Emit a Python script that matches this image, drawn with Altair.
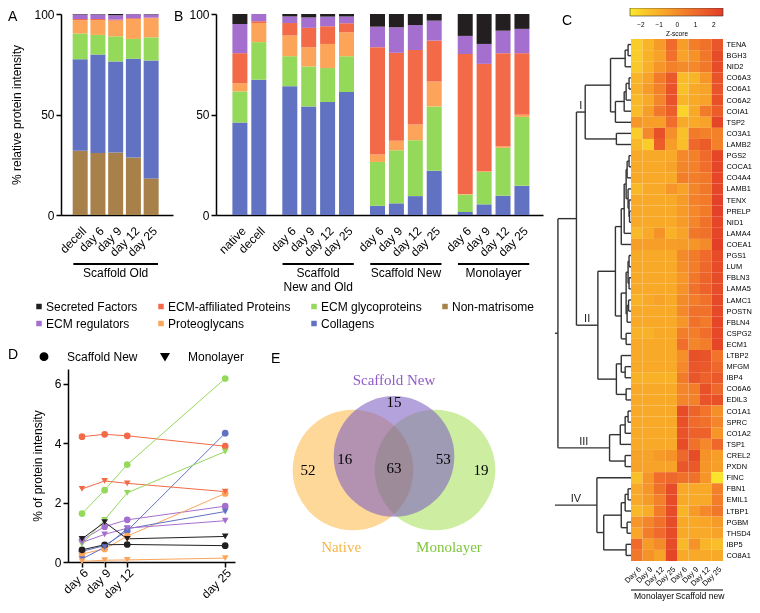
import json
import math
import altair as alt
import pandas as pd

SANS = "Liberation Sans"
SERIF = "Liberation Serif"

# ---------------- shared categories ----------------
categories = ["Secreted Factors", "ECM-affiliated Proteins", "ECM glycoproteins",
              "Non-matrisome", "ECM regulators", "Proteoglycans", "Collagens"]
category_colors = ["#231f20", "#f26a48", "#95d95b", "#a8804a", "#a56fcf", "#fca55a", "#6272c2"]
stack_order = ["Non-matrisome", "Collagens", "ECM glycoproteins", "Proteoglycans",
               "ECM-affiliated Proteins", "ECM regulators", "Secreted Factors"]

# ---------------- panel A (Scaffold Old) ----------------
a_labels = ["decell", "day 6", "day 9", "day 12", "day 25"]
a_groups = [("Scaffold Old", 5)]
a_nonmatrisome = [32.0, 30.9, 31.1, 28.6, 18.2]
a_collagens = [45.5, 48.9, 45.3, 49.1, 58.7]
a_glycoproteins = [12.8, 9.8, 12.5, 9.9, 11.5]
a_proteoglycans = [6.6, 7.4, 7.8, 9.9, 9.5]
a_affiliated = [0.6, 0.5, 0.5, 0.4, 0.3]
a_regulators = [2.3, 2.3, 2.2, 2.0, 1.6]
a_secreted = [0.2, 0.2, 0.6, 0.1, 0.2]

# ---------------- panel B ----------------
b_labels = ["native", "decell",
            "day 6", "day 9", "day 12", "day 25",
            "day 6", "day 9", "day 12", "day 25",
            "day 6", "day 9", "day 12", "day 25"]
b_groups = [("", 2), ("Scaffold\nNew and Old", 4), ("Scaffold New", 4), ("Monolayer", 4)]
b_collagens = [46.0, 67.3, 64.1, 54.0, 56.2, 61.2, 4.6, 5.8, 9.4, 22.0, 1.5, 5.3, 9.6, 14.5]
b_glycoproteins = [15.5, 18.7, 14.9, 19.9, 16.9, 17.8, 21.8, 26.4, 27.8, 32.0, 8.7, 16.2, 23.8, 34.3]
b_proteoglycans = [4.1, 9.5, 10.3, 9.6, 12.0, 11.9, 3.7, 4.7, 7.8, 12.4, 0.3, 0.3, 0.8, 1.1]
b_affiliated = [14.9, 0.9, 6.2, 9.6, 8.8, 4.5, 53.4, 43.8, 37.1, 20.4, 69.6, 53.4, 46.3, 30.6]
b_regulators = [14.5, 3.6, 3.3, 5.2, 4.8, 3.4, 10.2, 12.7, 12.4, 9.9, 9.0, 9.9, 11.2, 12.1]
b_secreted = [5.0, 0.0, 1.2, 1.7, 1.3, 1.2, 6.3, 6.6, 5.5, 3.3, 10.9, 14.9, 8.3, 7.4]

# ---------------- panel D ----------------
d_days = [6, 9, 12, 25]
d_conditions = ["Scaffold New", "Monolayer"]
sn_affiliated = [4.22, 4.30, 4.25, 3.90]
sn_glycoproteins = [1.63, 2.42, 3.28, 6.18]
sn_collagens = [0.36, 0.55, 1.05, 4.34]
sn_regulators = [0.74, 1.19, 1.42, 1.88]
sn_proteoglycans = [0.27, 0.44, 0.87, 2.31]
sn_secreted = [0.41, 0.58, 0.59, 0.55]
mo_affiliated = [2.46, 2.73, 2.65, 2.37]
mo_glycoproteins = [0.60, 1.42, 2.33, 3.72]
mo_collagens = [0.10, 0.50, 1.12, 1.70]
mo_regulators = [0.66, 0.93, 1.14, 1.39]
mo_proteoglycans = [0.02, 0.06, 0.07, 0.13]
mo_secreted = [0.78, 1.34, 0.78, 0.86]

# ---------------- panel E (Venn) ----------------
venn_sets = ["Native", "Monolayer", "Scaffold New"]
venn_fill = ["#fdd898", "#cdeea0", "#7d5fc3"]
venn_opacity = [1.0, 1.0, 0.58]
venn_blend = [None, "multiply", None]
venn_text_color = ["#f8b64a", "#7ec63c", "#8f5cc9"]
venn_cx = [-1.0, 1.0, 0.0]
venn_cy = [0.0, 0.0, 0.33]
venn_radius = 1.66
venn_label_x = [-1.29, 1.34, 0.0]
venn_label_y = [-1.88, -1.88, 2.2]
venn_counts = [52, 16, 63, 53, 19, 15]
venn_count_x = [-2.1, -1.2, 0.0, 1.2, 2.12, 0.0]
venn_count_y = [0.0, 0.27, 0.05, 0.27, 0.0, 1.66]

# ---------------- panel C (heatmap) ----------------
heat_rows = ["TENA", "BGH3", "NID2", "CO6A3", "CO6A1", "CO6A2", "COIA1", "TSP2", "CO3A1", "LAMB2",
             "PGS2", "COCA1", "CO4A4", "LAMB1", "TENX", "PRELP", "NID1", "LAMA4", "COEA1", "PGS1",
             "LUM", "FBLN3", "LAMA5", "LAMC1", "POSTN", "FBLN4", "CSPG2", "ECM1", "LTBP2", "MFGM",
             "IBP4", "CO6A6", "EDIL3", "CO1A1", "SPRC", "CO1A2", "TSP1", "CREL2", "PXDN", "FINC",
             "FBN1", "EMIL1", "LTBP1", "PGBM", "THSD4", "IBP5", "CO8A1"]
heat_col_labels = ["Day 6", "Day 9", "Day 12", "Day 25", "Day 6", "Day 9", "Day 12", "Day 25"]
heat_groups = [("Monolayer", 4), ("Scaffold new", 4)]
heat_z = [
    [-1.9, -1.2, -0.4, 1.0, -0.5, 0.4, 0.8, 1.7],    # TENA
    [-1.9, -1.1, -0.6, 0.8, -0.6, -0.2, 0.6, 2.0],   # BGH3
    [-1.8, -1.0, -0.3, 0.3, 0.0, 0.1, 0.6, 2.0],     # NID2
    [-1.2, -0.6, 0.5, 1.6, -1.4, -1.2, -0.3, 1.8],   # CO6A3
    [-1.1, -0.4, 0.3, 1.8, -1.6, -0.8, -0.6, 1.8],   # CO6A1
    [-1.3, -0.8, 0.2, 1.8, -1.2, -0.8, -0.6, 1.9],   # CO6A2
    [-1.4, -0.5, 0.6, 1.4, -2.1, -0.8, 0.5, 1.5],    # COIA1
    [-0.3, -0.5, -0.5, 0.9, -0.8, -0.8, -0.6, 2.2],  # TSP2
    [-1.9, 0.1, 1.9, -0.1, -1.6, 0.5, 0.3, 0.3],     # CO3A1
    [-1.3, -1.9, 1.5, -0.5, -1.5, 1.1, 1.5, 0.3],    # LAMB2
    [-0.8, -0.8, -0.8, -0.8, 0.1, 0.3, 1.0, 2.2],    # PGS2
    [-0.8, -0.8, -0.8, -0.6, 0.2, 0.3, 0.9, 2.2],    # COCA1
    [-0.8, -0.8, -0.8, -0.8, 0.4, 0.4, 0.6, 2.2],    # CO4A4
    [-1.3, -0.8, -0.8, -0.3, -0.6, 0.2, 0.6, 2.2],   # LAMB1
    [-0.8, -0.8, -0.8, -0.8, -0.4, 0.3, 0.5, 2.3],   # TENX
    [-0.8, -0.8, -0.8, -0.8, -0.4, 0.1, 0.5, 2.3],   # PRELP
    [-0.8, -0.8, -0.8, -0.8, -0.4, 0.2, 0.8, 2.2],   # NID1
    [-1.3, -0.8, -0.2, -1.1, -0.6, 0.6, 0.8, 2.2],   # LAMA4
    [-0.5, -0.5, -0.5, -0.5, -0.4, -0.3, 0.0, 2.4],  # COEA1
    [-0.8, -0.8, -0.8, -0.8, 0.0, 0.5, 1.0, 2.0],    # PGS1
    [-0.8, -0.8, -0.8, -0.8, -0.1, 0.4, 1.1, 2.0],   # LUM
    [-0.8, -0.8, -0.8, -0.8, -0.3, 0.6, 1.2, 2.0],   # FBLN3
    [-0.8, -0.8, -0.8, -0.8, -0.2, 0.8, 1.3, 2.0],   # LAMA5
    [-1.1, -0.8, -0.6, -0.8, 0.0, 0.4, 0.8, 2.1],    # LAMC1
    [-0.8, -0.8, -0.8, -0.8, 0.1, 0.8, 0.8, 2.1],    # POSTN
    [-0.8, -0.8, -0.8, -0.8, -0.3, 0.8, 0.5, 2.2],   # FBLN4
    [-1.1, -1.1, -0.8, -0.8, 0.4, 0.4, 0.9, 2.1],    # CSPG2
    [-0.8, -0.8, -0.8, -0.8, 0.9, 0.2, 0.4, 2.2],    # ECM1
    [-0.8, -0.8, -0.8, -0.8, -0.1, 1.9, 1.8, 0.7],   # LTBP2
    [-0.8, -0.8, -0.8, -0.8, 0.1, 1.7, 1.6, 1.1],    # MFGM
    [-1.1, -1.1, -1.1, -1.1, 0.5, 1.7, 1.3, 1.6],    # IBP4
    [-0.8, -0.8, -0.8, -0.8, 0.2, 0.4, 1.9, 1.1],    # CO6A6
    [-0.8, -0.8, -0.8, -0.8, 0.2, 0.3, 1.8, 1.9],    # EDIL3
    [-0.8, -0.8, -0.8, -0.8, 2.0, 1.2, 0.7, -0.1],   # CO1A1
    [-0.8, -0.8, -0.8, -0.8, 1.9, 1.0, 0.8, 0.2],    # SPRC
    [-0.8, -0.8, -0.8, -0.8, 1.8, 1.3, 1.3, -0.3],   # CO1A2
    [-0.8, -0.8, -0.8, -0.8, 2.0, 0.8, 0.1, 1.1],    # TSP1
    [-0.6, -0.6, -0.4, -0.2, 1.1, 2.0, -0.2, -0.5],  # CREL2
    [-0.6, -0.6, -0.6, -0.6, 1.7, 1.6, -0.3, -0.5],  # PXDN
    [-1.6, -0.3, 0.9, 1.1, 0.8, 0.8, -0.3, -2.5],    # FINC
    [-0.8, -0.3, 0.8, 2.0, -0.8, -0.8, -0.8, 0.3],   # FBN1
    [-0.8, -0.4, 0.3, 2.0, -0.8, -0.8, -0.8, 0.4],   # EMIL1
    [-1.3, -0.9, 0.5, 2.0, -1.2, -0.4, 0.1, 0.6],    # LTBP1
    [-0.3, 0.2, 0.8, 2.0, -0.8, -0.8, -0.7, -0.4],   # PGBM
    [-0.7, 0.4, 1.0, 2.0, -0.8, -0.8, -0.8, -0.6],   # THSD4
    [1.0, -0.4, 0.0, 2.0, -1.3, -0.2, -1.2, -1.5],   # IBP5
    [0.6, -0.2, -0.6, 2.2, -0.8, -0.8, -0.8, -0.8],  # CO8A1
]
z_stops = [-2.6, -1.7, -0.8, 0.0, 1.0, 2.5]
z_colors = ["#f9e82c", "#f9c42a", "#f8a928", "#f48b2a", "#ef6a2b", "#e23b28"]

# dendrogram: (merge height, left, right); leaves are protein names
cluster_I = (47, (21, (6, (3, "TENA", "BGH3"), "NID2"),
                  (16, (7, (5, (2, "CO6A3", "CO6A1"), "CO6A2"), "COIA1"), "TSP2")),
             (15, "CO3A1", "LAMB2"))
cluster_II = (34, (16, (10, (7, (5, (4, (2, "PGS2", "COCA1"), "CO4A4"),
                                   (3, "LAMB1", (2, "TENX", (1.5, "PRELP", "NID1")))), "LAMA4"), "COEA1"),
                   (10, (5, (3, (2, "PGS1", "LUM"), (2, "FBLN3", "LAMA5")),
                         (4, (2.5, "LAMC1", "POSTN"), "FBLN4")),
                    (5, "CSPG2", "ECM1"))),
              (15, (10, "LTBP2", (6, "MFGM", "IBP4")), (5, "CO6A6", "EDIL3")))
cluster_III = (22, (11, (6, (3, "CO1A1", "SPRC"), "CO1A2"), "TSP1"), (6, "CREL2", "PXDN"))
cluster_IV = (35, "FINC", (28, (10, (6, (3, "FBN1", "EMIL1"), "LTBP1"), (4, "PGBM", "THSD4")),
                           (5, "IBP5", "CO8A1")))
node_I_II = (56, cluster_I, cluster_II)
node_R1 = (75, node_I_II, cluster_III)
dendro_tree = (88, node_R1, cluster_IV)
cluster_names = [("I", cluster_I, node_I_II), ("II", cluster_II, node_I_II),
                 ("III", cluster_III, node_R1), ("IV", cluster_IV, dendro_tree)]

# ---------------- layout constants ----------------
SLOT_PX = 19.5
BAR_PX = 15
HALF = BAR_PX / 2 / SLOT_PX
GROUP_GAP = 0.64
BAR_H = 201
A_DOMAIN = [-0.8, 4.95]
B_DOMAIN = [-1.0, 15.77]
D_SHIFT = 7
D_W, D_H = 167, 193
E_W, E_H = 287, 234
E_XDOM = [-3.366, 3.634]
E_YDOM = [-3.244, 2.463]
DENDRO_W = 76
DENDRO_MAX = 78
HEAT_W = 92
HEAT_TOP = 25
ROW_PX = 11.1
HEAT_H = round(len(heat_rows) * ROW_PX)

color_scale = alt.Scale(domain=categories, range=category_colors)
AX = dict(domainColor="black", domainWidth=1.5, tickColor="black", tickWidth=1.5,
          labelColor="black", titleColor="black", labelFont=SANS, titleFont=SANS,
          labelFontSize=12, titleFontSize=12, titleFontWeight="normal", grid=False,
          labelOverlap=False)

main_legend = alt.Legend(orient="none", legendX=-28, legendY=286.5, columns=4,
                         direction="horizontal", title=None, symbolType="square", symbolSize=30,
                         symbolStrokeWidth=0, labelFont=SANS, labelFontSize=12, labelColor="black",
                         labelOffset=1, columnPadding=17, rowPadding=5, padding=0)


def letter(ch, x, y):
    return alt.Chart(pd.DataFrame({"t": [ch]})).mark_text(
        align="left", baseline="top", fontSize=14, font=SANS, color="black"
    ).encode(text="t:N", x=alt.value(x), y=alt.value(y))


def bar_panel(labels, positions, series, domain, groups, ch, ch_x, ytitle):
    rows = []
    for cat, vals in series:
        for p, v in zip(positions, vals):
            rows.append(dict(pos=p, category=cat, value=v, order=stack_order.index(cat)))
    df = pd.DataFrame(rows)
    width = round((domain[1] - domain[0]) * SLOT_PX)
    xs = alt.Scale(domain=domain, nice=False, zero=False)
    label_expr = f"{json.dumps(labels)}[indexof({json.dumps(positions)}, datum.value)]"
    xaxis = alt.Axis(values=positions, labelExpr=label_expr, labelAngle=-45, ticks=False,
                     tickSize=0, labelPadding=10, title=None, **AX)
    yaxis = alt.Axis(values=[0, 50, 100], tickSize=5, labelPadding=2, title=ytitle,
                     titlePadding=10, **AX)
    bars = alt.Chart(df).mark_bar(size=BAR_PX).encode(
        x=alt.X("pos:Q", scale=xs, axis=xaxis),
        y=alt.Y("value:Q", stack="zero", scale=alt.Scale(domain=[0, 100], nice=False), axis=yaxis),
        color=alt.Color("category:N", scale=color_scale, legend=main_legend),
        order=alt.Order("order:Q", sort="ascending"),
    )
    gl = []
    start = 0
    for name, size in groups:
        if name:
            p0, p1 = positions[start], positions[start + size - 1]
            gl.append(dict(x1=p0 - HALF, x2=p1 + HALF, xm=(p0 + p1) / 2, name=name))
        start += size
    gdf = pd.DataFrame(gl)
    rules = alt.Chart(gdf).mark_rule(color="black", strokeWidth=1.8).encode(
        x=alt.X("x1:Q", scale=xs, axis=xaxis), x2="x2:Q", y=alt.value(BAR_H + 49))
    gtext = alt.Chart(gdf).mark_text(baseline="top", align="center", fontSize=12, font=SANS,
                                     lineBreak="\n", lineHeight=13.5, color="black").encode(
        x=alt.X("xm:Q", scale=xs, axis=xaxis), y=alt.value(BAR_H + 53), text="name:N")
    return alt.layer(bars, rules, gtext, letter(ch, ch_x, -4)).properties(width=width, height=BAR_H)


# ---- A ----
a_pos = list(range(len(a_labels)))
a_series = [("Non-matrisome", a_nonmatrisome), ("Collagens", a_collagens),
            ("ECM glycoproteins", a_glycoproteins), ("Proteoglycans", a_proteoglycans),
            ("ECM-affiliated Proteins", a_affiliated), ("ECM regulators", a_regulators),
            ("Secreted Factors", a_secreted)]
chart_a = bar_panel(a_labels, a_pos, a_series, A_DOMAIN, a_groups, "A", -53,
                    "% relative protein intensity")

# ---- B ----
b_pos = []
p = 0.0
for _, size in b_groups:
    for _ in range(size):
        b_pos.append(round(p, 2))
        p += 1
    p += GROUP_GAP
b_series = [("Collagens", b_collagens), ("ECM glycoproteins", b_glycoproteins),
            ("Proteoglycans", b_proteoglycans), ("ECM-affiliated Proteins", b_affiliated),
            ("ECM regulators", b_regulators), ("Secreted Factors", b_secreted)]
chart_b = bar_panel(b_labels, b_pos, b_series, B_DOMAIN, b_groups, "B", -42, None)

# ---- D ----
d_rows = []
for cond, series in [("Scaffold New", [("ECM-affiliated Proteins", sn_affiliated),
                                       ("ECM glycoproteins", sn_glycoproteins),
                                       ("Collagens", sn_collagens), ("ECM regulators", sn_regulators),
                                       ("Proteoglycans", sn_proteoglycans),
                                       ("Secreted Factors", sn_secreted)]),
                     ("Monolayer", [("ECM-affiliated Proteins", mo_affiliated),
                                    ("ECM glycoproteins", mo_glycoproteins),
                                    ("Collagens", mo_collagens), ("ECM regulators", mo_regulators),
                                    ("Proteoglycans", mo_proteoglycans),
                                    ("Secreted Factors", mo_secreted)])]:
    for cat, vals in series:
        for day, v in zip(d_days, vals):
            d_rows.append(dict(day=day, value=v, category=cat, condition=cond, series=cond + cat))
ddf = pd.DataFrame(d_rows)
dxs = alt.Scale(domain=[4.14, 26.3], range=[D_SHIFT, D_SHIFT + D_W], nice=False, zero=False)
dys = alt.Scale(domain=[0, 6.5], nice=False)
d_x = alt.X("day:Q", scale=dxs, axis=alt.Axis(values=d_days, labelExpr="'day ' + datum.value",
                                              labelAngle=-45, tickSize=5, labelPadding=0,
                                              title=None, **AX))
d_y = alt.Y("value:Q", scale=dys, axis=alt.Axis(values=[0, 2, 4, 6], tickSize=5, labelPadding=2,
                                                offset=-D_SHIFT, title="% of protein intensity",
                                                titlePadding=10, **AX))
d_color = alt.Color("category:N", scale=color_scale, legend=main_legend)
d_lines = alt.Chart(ddf).mark_line(strokeWidth=1).encode(x=d_x, y=d_y, color=d_color, detail="series:N")
d_points = alt.Chart(ddf).mark_point(filled=True, size=45, opacity=1).encode(
    x=d_x, y=d_y, color=d_color,
    shape=alt.Shape("condition:N", scale=alt.Scale(domain=d_conditions, range=["circle", "triangle-down"]),
                    legend=alt.Legend(orient="none", legendX=-23, legendY=336.5, direction="horizontal",
                                      title=None, symbolFillColor="black", symbolStrokeColor="black",
                                      symbolSize=55, labelFont=SANS, labelFontSize=12,
                                      labelColor="black", labelOffset=17, columnPadding=20,
                                      padding=0)))
chart_d = alt.layer(d_lines, d_points, letter("D", -53, -21)).properties(width=D_SHIFT + D_W, height=D_H)

# ---- E ----
exs = alt.Scale(domain=E_XDOM, nice=False, zero=False)
eys = alt.Scale(domain=E_YDOM, nice=False, zero=False)
e_px = E_W / (E_XDOM[1] - E_XDOM[0])
circle_area = math.pi * (venn_radius * e_px) ** 2
e_layers = []
for name, fill, op, bl, cx, cy in zip(venn_sets, venn_fill, venn_opacity, venn_blend, venn_cx, venn_cy):
    kw = dict(size=circle_area, color=fill, opacity=op)
    if bl:
        kw["blend"] = bl
    e_layers.append(alt.Chart(pd.DataFrame({"cx": [cx], "cy": [cy]})).mark_circle(**kw).encode(
        x=alt.X("cx:Q", scale=exs, axis=None), y=alt.Y("cy:Q", scale=eys, axis=None)))
count_df = pd.DataFrame({"x": venn_count_x, "y": venn_count_y, "n": venn_counts})
e_layers.append(alt.Chart(count_df).mark_text(font=SERIF, fontSize=15, color="black").encode(
    x=alt.X("x:Q", scale=exs, axis=None), y=alt.Y("y:Q", scale=eys, axis=None), text="n:N"))
for name, tc, lx, ly in zip(venn_sets, venn_text_color, venn_label_x, venn_label_y):
    e_layers.append(alt.Chart(pd.DataFrame({"x": [lx], "y": [ly], "t": [name]})).mark_text(
        font=SERIF, fontSize=15, color=tc).encode(
        x=alt.X("x:Q", scale=exs, axis=None), y=alt.Y("y:Q", scale=eys, axis=None), text="t:N"))
e_layers.append(letter("E", 15, -17))
chart_e = alt.layer(*e_layers).properties(width=E_W, height=E_H)

# ---- C ----
hrows = []
for r, (name, zs) in enumerate(zip(heat_rows, heat_z)):
    for c, z in enumerate(zs):
        hrows.append(dict(x0=c - 0.5, x1=c + 0.5, y0=r - 0.5, y1=r + 0.5, z=z))
hdf = pd.DataFrame(hrows)
row_index = {n: i for i, n in enumerate(heat_rows)}
segs = []
node_pos = {}


def walk(node):
    if isinstance(node, str):
        return 0.0, float(row_index[node])
    h, a, b = node
    ha, ya = walk(a)
    hb, yb = walk(b)
    segs.append(dict(h1=h, h2=h, ya=ya, yb=yb))
    segs.append(dict(h1=h, h2=ha, ya=ya, yb=ya))
    segs.append(dict(h1=h, h2=hb, ya=yb, yb=yb))
    y = (ya + yb) / 2
    node_pos[id(node)] = (h, y)
    return h, y


walk(dendro_tree)
sdf = pd.DataFrame(segs)
lab_rows = []
for lab, node, parent in cluster_names:
    h, y = node_pos[id(node)]
    ph = min(node_pos[id(parent)][0], DENDRO_MAX)
    lab_rows.append(dict(h=(h + ph) / 2, y=y, t=lab))
ldf = pd.DataFrame(lab_rows)

ys = alt.Scale(domain=[-0.5, len(heat_rows) - 0.5], range=[HEAT_TOP, HEAT_TOP + HEAT_H],
               nice=False, zero=False)
heat_yaxis = alt.Axis(orient="right", values=list(range(len(heat_rows))),
                      labelExpr=f"{json.dumps(heat_rows)}[datum.value]", ticks=False, tickSize=0,
                      domain=False, labelPadding=3, labelFontSize=7.4, labelFont=SANS,
                      labelColor="black", title=None, grid=False, labelOverlap=False)
hxs = alt.Scale(domain=[-0.5, 7.5], range=[DENDRO_W, DENDRO_W + HEAT_W], nice=False, zero=False)
dxs2 = alt.Scale(domain=[DENDRO_MAX, 0], range=[0, DENDRO_W], nice=False, zero=False)

heat = alt.Chart(hdf).mark_rect().encode(
    x=alt.X("x0:Q", scale=hxs, axis=alt.Axis(values=list(range(8)),
                                              labelExpr=f"{json.dumps(heat_col_labels)}[datum.value]",
                                              labelAngle=-45, ticks=False, tickSize=0, domain=False,
                                              labelPadding=4, labelFontSize=7.5, labelFont=SANS,
                                              labelColor="black", title=None, grid=False,
                                              labelOverlap=False)),
    x2="x1:Q",
    y=alt.Y("y0:Q", scale=ys, axis=heat_yaxis),
    y2="y1:Q",
    fill=alt.Fill("z:Q", scale=alt.Scale(domain=z_stops, range=z_colors),
                  legend=alt.Legend(orient="none", legendX=DENDRO_W - 1, legendY=-6,
                                    direction="horizontal", gradientLength=HEAT_W + 1,
                                    gradientThickness=8, title="Z-score",
                                    titleOrient="bottom", titleAnchor="middle", titleFontSize=6.5,
                                    titleFontWeight="normal", titleFont=SANS, titlePadding=2,
                                    labelFontSize=6.5, labelFont=SANS, labelOffset=6,
                                    values=[-2, -1, 0, 1, 2], gradientStrokeColor="#333",
                                    gradientStrokeWidth=0.6, padding=0)),
)
dendro = alt.Chart(sdf).mark_rule(color="#333333", strokeWidth=1.4, clip=True).encode(
    x=alt.X("h1:Q", scale=dxs2, axis=None), x2="h2:Q",
    y=alt.Y("ya:Q", scale=ys, axis=heat_yaxis), y2="yb:Q")
roman = alt.Chart(ldf).mark_text(fontSize=11, font=SANS, baseline="bottom", dy=-1, color="#222").encode(
    x=alt.X("h:Q", scale=dxs2, axis=None), y=alt.Y("y:Q", scale=ys, axis=heat_yaxis), text="t:N")
hg = []
start = 0
for name, size in heat_groups:
    hg.append(dict(x1=start - 0.5, x2=start + size - 0.5, xm=start + (size - 1) / 2, name=name))
    start += size
hgdf = pd.DataFrame(hg)
C_H = HEAT_TOP + HEAT_H
hrule = alt.Chart(hgdf).mark_rule(color="black", strokeWidth=1.2).encode(
    x=alt.X("x1:Q", scale=hxs, axis=None), x2="x2:Q", y=alt.value(C_H + 29))
htext = alt.Chart(hgdf).mark_text(fontSize=8.6, font=SANS, baseline="middle", color="black").encode(
    x=alt.X("xm:Q", scale=hxs, axis=None), y=alt.value(C_H + 35), text="name:N")
chart_c = alt.layer(heat, dendro, roman, hrule, htext, letter("C", 7, 0)).resolve_scale(
    x="independent").properties(width=DENDRO_W + HEAT_W, height=C_H)

# ---------------- assemble ----------------
top_row = alt.hconcat(chart_a, chart_b, spacing=1)
bottom_row = alt.hconcat(chart_d, chart_e, spacing=21)
left_block = alt.vconcat(top_row, bottom_row, spacing=55)
chart = alt.hconcat(left_block, chart_c, spacing=12).resolve_scale(fill="independent").properties(
    padding=0, background="white"
).configure(font=SANS).configure_view(stroke=None).configure_mark(color="black")

chart.save("out.html", embed_options={"renderer": "svg", "actions": False})
